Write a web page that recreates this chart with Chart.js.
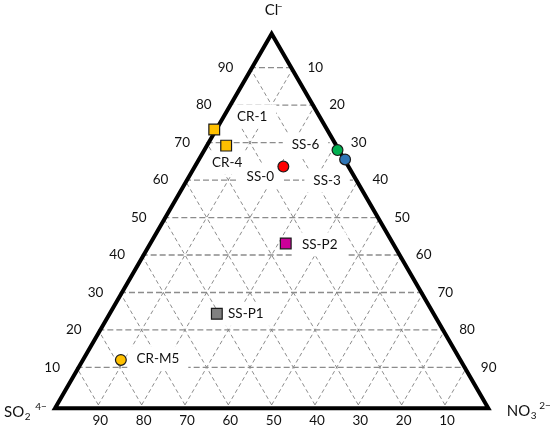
<!DOCTYPE html>
<html><head><meta charset="utf-8">
<script src="https://cdn.jsdelivr.net/npm/chart.js@4"></script>
<style>html,body{margin:0;padding:0;background:#fff}canvas{display:block}</style>
</head><body>
<canvas id="c" width="550" height="432"></canvas>
<script>
// ---- data (percent) ----
const sampleNames = ['CR-1', 'CR-4', 'SS-0', 'SS-6', 'SS-3', 'SS-P2', 'SS-P1', 'CR-M5'];
const clValues    = [73.5, 69.2, 63.6, 68.0, 65.5, 43.1, 24.3, 12.0];
const no3Values   = [0.0, 4.9, 20.9, 31.2, 34.2, 31.7, 25.2, 9.2];
const so4Values   = [26.5, 25.9, 15.5, 0.8, 0.3, 25.2, 50.5, 78.8];
const tickValues  = [10, 20, 30, 40, 50, 60, 70, 80, 90];

// ---- styles ----
const markerColors = ['#FFC000', '#FFC000', '#FF0000', '#00B050', '#2E75B6', '#CC0099', '#808080', '#FFC000'];
const markerShapes = ['rect', 'rect', 'circle', 'circle', 'circle', 'rect', 'rect', 'circle'];
const labelOffsets = [[38, -13], [1, 17], [-23, 10], [-32, -5], [-18, 21], [34, 1], [29, 0], [37, -1]];

const H = Math.sqrt(3) / 2;
function toXY(s, n, c) { const t = s + n + c; return { x: (n + c / 2) / t, y: (c / t) * H }; }

const datasets = [];
// grid lines
tickValues.forEach(k => {
  const f = k / 100;
  datasets.push({ role: 'grid', data: [toXY(1 - f, 0, f), toXY(0, 1 - f, f)], borderColor: '#8c8c8c', borderWidth: 1.3, borderDash: [6, 3], order: 30 });
  datasets.push({ role: 'grid', data: [toXY(1 - f, f, 0), toXY(0, f, 1 - f)], borderColor: '#6e6e6e', borderWidth: 0.8, borderDash: [4, 3], order: 30 });
  datasets.push({ role: 'grid', data: [toXY(f, 1 - f, 0), toXY(f, 0, 1 - f)], borderColor: '#6e6e6e', borderWidth: 0.8, borderDash: [4, 3], order: 30 });
});
// triangle border (drawn slightly lower, as in the reference)
const shift = 0.008;
const corners = [toXY(0, 0, 1), toXY(1, 0, 0), toXY(0, 1, 0), toXY(0, 0, 1), toXY(1, 0, 0)]
  .map(p => ({ x: p.x, y: p.y - shift }));
datasets.push({ role: 'border', data: corners, borderColor: '#000', borderWidth: 4, borderJoinStyle: 'miter', order: 10 });
// samples
sampleNames.forEach((name, i) => {
  datasets.push({
    role: 'sample', label: name,
    data: [toXY(so4Values[i], no3Values[i], clValues[i])],
    showLine: false, pointStyle: markerShapes[i],
    pointRadius: markerShapes[i] === 'rect' ? 7.6 : 5.4,
    backgroundColor: markerColors[i], borderColor: '#1a1a1a', borderWidth: 1.2, order: 0
  });
});
datasets.forEach(d => {
  if (d.role !== 'sample') { d.showLine = true; d.pointRadius = 0; d.tension = 0; d.fill = false; }
  d.clip = false;
});

const FONT = 'Lato, "Open Sans", sans-serif';
function labelPos(chart, i) {
  const p = toXY(so4Values[i], no3Values[i], clValues[i]);
  return { x: chart.scales.x.getPixelForValue(p.x) + labelOffsets[i][0], y: chart.scales.y.getPixelForValue(p.y) + labelOffsets[i][1] };
}

const ternaryPlugin = {
  id: 'ternary',
  beforeDatasetDraw(chart, args) {
    const ds = chart.data.datasets[args.index];
    if (ds.role !== 'border') return;
    const ctx = chart.ctx;
    ctx.save();
    ctx.font = '13.5px ' + FONT;
    ctx.fillStyle = '#fff';
    sampleNames.forEach((name, i) => {
      const p = labelPos(chart, i);
      const w = ctx.measureText(name).width;
      ctx.fillRect(p.x - w / 2 - 9, p.y - 12, w + 18, 24);
    });
    ctx.restore();
  },
  afterDatasetsDraw(chart) {
    const ctx = chart.ctx, xs = chart.scales.x, ys = chart.scales.y;
    const px = p => ({ x: xs.getPixelForValue(p.x), y: ys.getPixelForValue(p.y) });
    ctx.save();
    ctx.fillStyle = '#111';
    ctx.textAlign = 'center';
    ctx.textBaseline = 'middle';
    ctx.font = '13.5px ' + FONT;
    // tick labels
    tickValues.forEach(k => {
      const f = k / 100;
      const l = px(toXY(1 - f, 0, f));
      ctx.fillText(String(k), l.x - 24.5, l.y);
      const r = px(toXY(0, 1 - f, f));
      ctx.fillText(String(100 - k), r.x + 22, r.y);
      const b = px(toXY(1 - f, f, 0));
      ctx.fillText(String(100 - k), b.x + 2, b.y + 16);
    });
    // sample labels
    sampleNames.forEach((name, i) => {
      const p = labelPos(chart, i);
      ctx.fillText(name, p.x, p.y);
    });
    // vertex titles
    ctx.textAlign = 'left';
    ctx.textBaseline = 'alphabetic';
    const top = px(toXY(0, 0, 1)), bl = px(toXY(1, 0, 0)), br = px(toXY(0, 1, 0));
    ctx.font = '15px ' + FONT;
    ctx.fillText('Cl', top.x - 7, top.y - 15);
    ctx.font = '10px ' + FONT;
    ctx.fillText('\u2212', top.x + 5, top.y - 20);
    // SO2 4-
    ctx.font = '15px ' + FONT;
    ctx.fillText('SO', bl.x - 51, bl.y + 12);
    let w = ctx.measureText('SO').width;
    ctx.font = '10px ' + FONT;
    ctx.fillText('2', bl.x - 51 + w + 0.5, bl.y + 15);
    ctx.fillText('4\u2212', bl.x - 51 + w + 11, bl.y + 5);
    // NO3 2-
    ctx.font = '15px ' + FONT;
    ctx.fillText('NO', br.x + 18.5, br.y + 11);
    w = ctx.measureText('NO').width;
    ctx.font = '10px ' + FONT;
    ctx.fillText('3', br.x + 18.5 + w + 0.5, br.y + 14);
    ctx.fillText('2\u2212', br.x + 18.5 + w + 9, br.y + 4);
    ctx.restore();
  }
};

new Chart(document.getElementById('c'), {
  type: 'scatter',
  data: { datasets },
  options: {
    responsive: false, devicePixelRatio: 1, animation: false, events: [],
    layout: { padding: { left: 55, right: 61.7, top: 30.2, bottom: 27.1 } },
    scales: {
      x: { type: 'linear', min: 0, max: 1, display: false },
      y: { type: 'linear', min: 0, max: H, display: false }
    },
    plugins: { legend: { display: false }, tooltip: { enabled: false } }
  },
  plugins: [ternaryPlugin]
});
</script>
</body></html>
